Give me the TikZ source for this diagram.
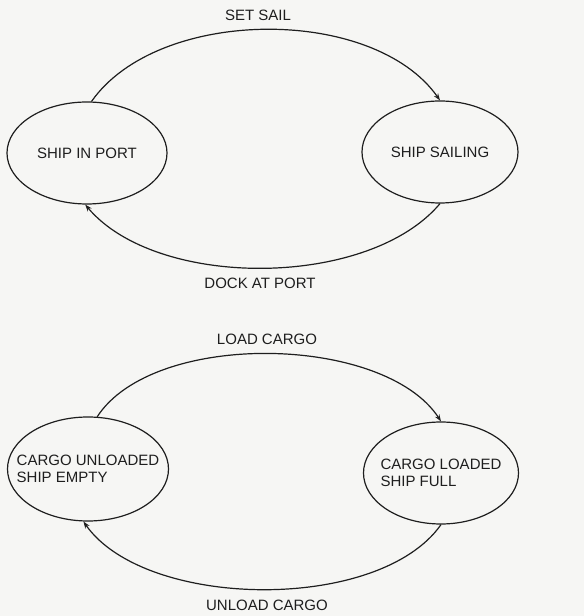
\documentclass[tikz,border=0pt]{standalone}
\usepackage{fontspec}
\setmainfont{Liberation Sans}
\usetikzlibrary{arrows.meta, shapes.geometric}
\definecolor{paper}{RGB}{246,246,244}
\definecolor{ink}{RGB}{30,30,30}
\tikzset{
    % States
    statenode/.style={ellipse, draw=ink, line width=1.2pt, inner xsep=-20pt, inner ysep=0pt,
                minimum width=160pt, minimum height=102pt, align=left,
                font=\fontsize{15}{17}\selectfont, text=ink},
    % Transitions
    tarrow/.style={-{Stealth[length=7pt, width=5pt]}, line width=1.2pt, ink},
    tlabel/.style={font=\fontsize{15}{17}\selectfont, text=ink},
}

\begin{document}
\begin{tikzpicture}[x=1pt, y=1pt]
\fill[paper] (0,0) rectangle (584,616);
\useasboundingbox (0,0) rectangle (584,616);

% Ship position
\node[statenode] (port)    at (87,463)  {SHIP IN PORT};
\node[statenode, minimum width=156pt] (sailing) at (440,464) {SHIP SAILING};
\draw[tarrow] (port.85) to[out=55, in=125, looseness=0.85] (sailing.north);
\draw[tarrow] (sailing.south) to[out=-130, in=-50, looseness=0.8] (port.268);
\node[tlabel] (setsail) at (258,601) {SET SAIL};
\node[tlabel] (dock)    at (260,333) {DOCK AT PORT};

% Cargo state
\node[statenode, minimum width=161pt, minimum height=104pt] (empty) at (88,147) {CARGO UNLOADED\\SHIP EMPTY};
\node[statenode, minimum width=155pt] (full) at (441,143) {CARGO LOADED\\SHIP FULL};
\draw[tarrow] (empty.80) to[out=57, in=123, looseness=0.77] (full.north);
\draw[tarrow] (full.south) to[out=-125, in=-55, looseness=0.77] (empty.265);
\node[tlabel] (load)   at (267,277) {LOAD CARGO};
\node[tlabel] (unload) at (267,11)  {UNLOAD CARGO};
\end{tikzpicture}
\end{document}
